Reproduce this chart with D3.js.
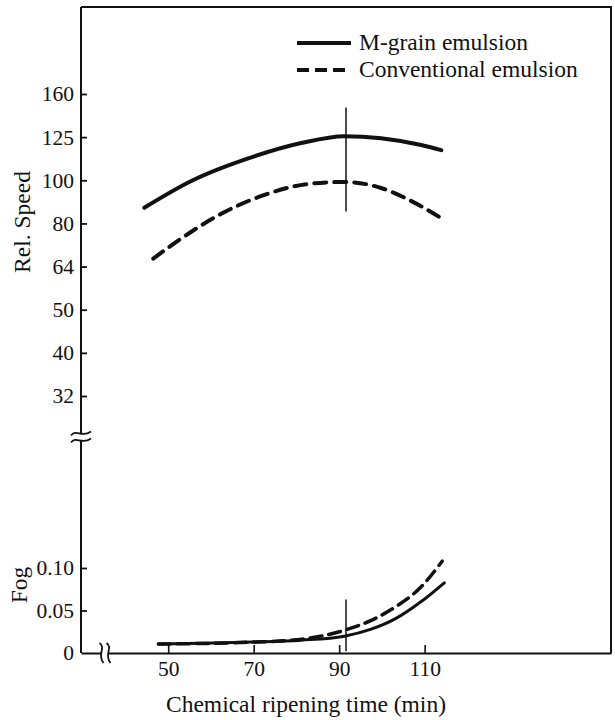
<!DOCTYPE html>
<html>
<head>
<meta charset="utf-8">
<script src="https://cdn.jsdelivr.net/npm/d3@7/dist/d3.min.js"></script>
<style>
  html, body { margin: 0; padding: 0; background: #fff; }
  svg { display: block; }
</style>
</head>
<body>
<svg id="chart" width="615" height="720"></svg>
<script>
// ---------------- data ----------------
const seriesNames = ["M-grain emulsion", "Conventional emulsion"];

// Relative speed vs chemical ripening time (min)
const mgrainSpeedTime = [44.4, 55.4, 69.6, 81.1, 91.2, 99.8, 109.2, 113.9];
const mgrainSpeed     = [87.7, 101.2, 115.0, 124.0, 128.7, 127.3, 122.7, 119.4];
const convSpeedTime   = [46.5, 54.7, 62.4, 71.8, 82.7, 91.2, 99.8, 106.8, 114.1];
const convSpeed       = [66.8, 76.3, 84.9, 93.4, 99.6, 100.7, 97.5, 91.0, 82.7];

// Fog vs chemical ripening time (min)
const mgrainFogTime = [47.7, 69.6, 81.1, 91.2, 97.5, 103.3, 109.2, 114.6];
const mgrainFog     = [0.0105, 0.0128, 0.0151, 0.0198, 0.028, 0.0407, 0.0605, 0.0826];
const convFogTime   = [47.7, 69.6, 80.0, 91.2, 97.5, 103.3, 109.2, 114.1];
const convFog       = [0.0105, 0.0128, 0.0155, 0.0267, 0.0384, 0.0547, 0.0779, 0.108];

// axes
const xTickValues = [50, 70, 90, 110];
const xTickLabels = ["50", "70", "90", "110"];
const speedTickValues = [32, 40.32, 50.8, 64, 80.63, 101.59, 128, 161.27];
const speedTickLabels = ["32", "40", "50", "64", "80", "100", "125", "160"];
const fogTickValues = [0, 0.05, 0.10];
const fogTickLabels = ["0", "0.05", "0.10"];
const optimumTime = [91.6];

const xTitle = "Chemical ripening time (min)";
const speedTitle = "Rel. Speed";
const fogTitle = "Fog";

// ---------------- layout ----------------
const svg = d3.select("#chart");
const mLeft = 81, mRight = 611, mTop = 7, mBottom = 653;
const FONT = '"Liberation Serif", "Times New Roman", serif';
const tickFont = 21.5, titleFont = 23.5;

const x = d3.scaleLinear().domain([29.6, 153.6]).range([mLeft, mRight]);
const ySpeed = d3.scaleLog().domain([32, 161.27]).range([396, 94]);
const yFog = d3.scaleLinear().domain([0, 0.10]).range([mBottom, 568]);

function styleText(sel, size) {
  return sel.style("font-family", FONT).style("font-size", size + "px").attr("fill", "#111");
}

// frame
svg.append("path")
  .attr("d", `M${mLeft},${mTop} H${mRight} V${mBottom}`)
  .attr("fill", "none").attr("stroke", "#111").attr("stroke-width", 2);

// left axis line
svg.append("line").attr("x1", mLeft).attr("x2", mLeft).attr("y1", mTop).attr("y2", mBottom)
  .attr("stroke", "#111").attr("stroke-width", 2);

// bottom axis with inward ticks
const xAxis = d3.axisBottom(x).tickValues(xTickValues)
  .tickFormat((d, i) => xTickLabels[i]).tickSizeInner(-8).tickSizeOuter(0).tickPadding(6);
const gx = svg.append("g").attr("transform", `translate(0,${mBottom})`).call(xAxis);
gx.attr("font-family", null);
gx.select(".domain").attr("stroke", "#111").attr("stroke-width", 2);
gx.selectAll(".tick line").attr("stroke", "#111").attr("stroke-width", 1.6);
styleText(gx.selectAll(".tick text"), tickFont).attr("dy", "0.95em").attr("y", 3);

// speed axis
const speedAxis = d3.axisLeft(ySpeed).tickValues(speedTickValues)
  .tickFormat((d, i) => speedTickLabels[i]).tickSizeInner(-6).tickSizeOuter(0).tickPadding(8);
const gs = svg.append("g").attr("transform", `translate(${mLeft},0)`).call(speedAxis);
gs.attr("font-family", null);
gs.select(".domain").remove();
gs.selectAll(".tick line").attr("stroke", "#111").attr("stroke-width", 1.8);
styleText(gs.selectAll(".tick text"), tickFont).attr("x", -7);

// fog axis
const fogAxis = d3.axisLeft(yFog).tickValues(fogTickValues)
  .tickFormat((d, i) => fogTickLabels[i]).tickSizeInner(-6).tickSizeOuter(0).tickPadding(8);
const gf = svg.append("g").attr("transform", `translate(${mLeft},0)`).call(fogAxis);
gf.attr("font-family", null);
gf.select(".domain").remove();
gf.selectAll(".tick line").attr("stroke", "#111").attr("stroke-width", 1.8)
  .attr("opacity", (d) => d === 0 ? 0 : 1);
styleText(gf.selectAll(".tick text"), tickFont).attr("x", -7);

// y-axis break (≈)
const yBreak = 437;
svg.append("rect").attr("x", mLeft - 3).attr("y", yBreak - 4).attr("width", 6).attr("height", 8).attr("fill", "#fff");
[-3.5, 3.5].forEach(off => {
  svg.append("path")
    .attr("d", `M${mLeft - 10},${yBreak + off + 2} C${mLeft - 5},${yBreak + off - 5} ${mLeft + 1},${yBreak + off + 5} ${mLeft + 10},${yBreak + off - 2}`)
    .attr("fill", "none").attr("stroke", "#111").attr("stroke-width", 1.8);
});

// x-axis break
const xBreak = 105;
svg.append("rect").attr("x", xBreak - 4).attr("y", mBottom - 3).attr("width", 8).attr("height", 6).attr("fill", "#fff");
[-3.5, 3.5].forEach(off => {
  svg.append("path")
    .attr("d", `M${xBreak + off - 2},${mBottom - 10} C${xBreak + off + 5},${mBottom - 5} ${xBreak + off - 5},${mBottom + 1} ${xBreak + off + 2},${mBottom + 10}`)
    .attr("fill", "none").attr("stroke", "#111").attr("stroke-width", 1.8);
});

// curves
const line = (ys) => d3.line().x(d => x(d[0])).y(d => ys(d[1])).curve(d3.curveMonotoneX);
const zip = (a, b) => a.map((v, i) => [v, b[i]]);

svg.append("path").datum(zip(mgrainSpeedTime, mgrainSpeed))
  .attr("d", line(ySpeed)).attr("fill", "none").attr("stroke", "#111")
  .attr("stroke-width", 4).attr("stroke-linecap", "round");
svg.append("path").datum(zip(convSpeedTime, convSpeed))
  .attr("d", line(ySpeed)).attr("fill", "none").attr("stroke", "#111")
  .attr("stroke-width", 4).attr("stroke-dasharray", "12 8").attr("stroke-linecap", "round");

svg.append("path").datum(zip(convFogTime, convFog))
  .attr("d", line(yFog)).attr("fill", "none").attr("stroke", "#111")
  .attr("stroke-width", 3.5).attr("stroke-dasharray", "12 7").attr("stroke-linecap", "round");
svg.append("path").datum(zip(mgrainFogTime, mgrainFog))
  .attr("d", line(yFog)).attr("fill", "none").attr("stroke", "#111")
  .attr("stroke-width", 3).attr("stroke-linecap", "round");

// optimum markers
optimumTime.forEach(t => {
  svg.append("line").attr("x1", x(t)).attr("x2", x(t))
    .attr("y1", ySpeed(150)).attr("y2", ySpeed(86))
    .attr("stroke", "#111").attr("stroke-width", 1.5);
  svg.append("line").attr("x1", x(t)).attr("x2", x(t))
    .attr("y1", yFog(0.063)).attr("y2", yFog(0.002))
    .attr("stroke", "#111").attr("stroke-width", 1.5);
});

// axis titles
styleText(svg.append("text").attr("transform", `translate(30,${222}) rotate(-90)`)
  .attr("text-anchor", "middle").text(speedTitle), titleFont);
styleText(svg.append("text").attr("transform", `translate(27,${585}) rotate(-90)`)
  .attr("text-anchor", "middle").text(fogTitle), titleFont);
styleText(svg.append("text").attr("x", 306).attr("y", 712)
  .attr("text-anchor", "middle").text(xTitle), titleFont);

// legend
const legend = svg.append("g");
seriesNames.forEach((name, i) => {
  const ly = 43 + i * 27;
  legend.append("line").attr("x1", 297).attr("x2", 351).attr("y1", ly).attr("y2", ly)
    .attr("stroke", "#111").attr("stroke-width", 4)
    .attr("stroke-dasharray", i === 1 ? "12 6" : null);
  styleText(legend.append("text").attr("x", 359).attr("y", ly + 7).text(name), titleFont);
});
</script>
</body>
</html>
